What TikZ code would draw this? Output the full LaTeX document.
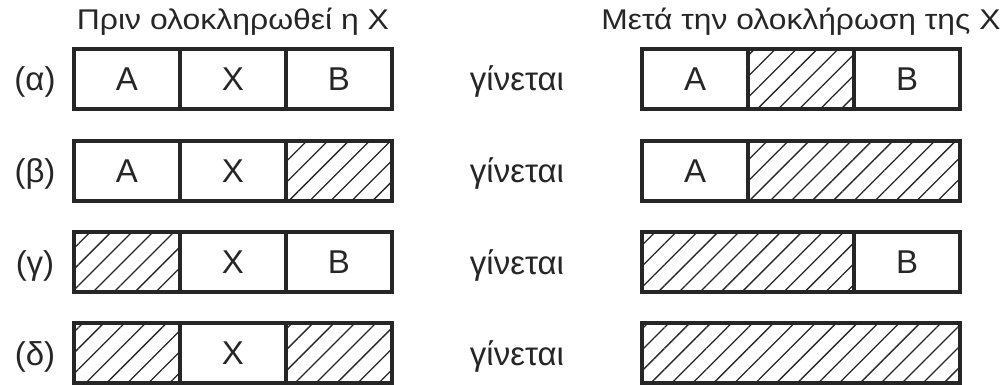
\documentclass[tikz,border=0pt]{standalone}
\usepackage{fontspec}
\setmainfont{Liberation Sans}
\usetikzlibrary{positioning, patterns.meta}

\definecolor{InkGray}{RGB}{38, 38, 38}

\begin{document}
\begin{tikzpicture}[
        x=1pt, y=-1pt,
        node distance=0pt,
        % Styles
        cell/.style={rectangle, draw=InkGray, line width=4pt, outer sep=0pt, inner sep=0pt, minimum width=106pt, minimum height=60pt, text=InkGray, font=\fontsize{33}{36}\selectfont},
        wide/.style={cell, minimum width=212pt},
        full/.style={cell, minimum width=318pt},
        hatched/.style={pattern={Lines[angle=45, distance=14.8pt, line width=1.3pt]}, pattern color=InkGray},
        tag/.style={anchor=base, text=InkGray, font=\fontsize{33}{36}\selectfont},
        heading/.style={anchor=base, text=InkGray, inner sep=0pt, font=\fontsize{28.5}{30}\selectfont}
    ]
        \useasboundingbox (0,0) rectangle (1005,385);

        % Headings
        \node [heading] (before) at (233,30) {\scalebox{1.12}[1]{Πριν ολοκληρωθεί η X}};
        \node [heading] (after) at (801,30) {\scalebox{1.115}[1]{Μετά την ολοκλήρωση της X}};

        % Row (a)
        \node [tag] (ta) at (35,91) {(α)};
        \node [cell] (a1) at (127,79) {A};
        \node [cell, right=of a1] (a2) {X};
        \node [cell, right=of a2] (a3) {B};
        \node [tag] (ga) at (517,91) {γίνεται};
        \node [cell] (a4) at (695,79) {A};
        \node [cell, hatched, right=of a4] (a5) {};
        \node [cell, right=of a5] (a6) {B};

        % Row (b)
        \node [tag] (tb) at (35,183) {(β)};
        \node [cell] (b1) at (127,171) {A};
        \node [cell, right=of b1] (b2) {X};
        \node [cell, hatched, right=of b2] (b3) {};
        \node [tag] (gb) at (517,183) {γίνεται};
        \node [cell] (b4) at (695,171) {A};
        \node [wide, hatched, right=of b4] (b5) {};

        % Row (c)
        \node [tag] (tc) at (35,274) {(γ)};
        \node [cell, hatched] (c1) at (127,262) {};
        \node [cell, right=of c1] (c2) {X};
        \node [cell, right=of c2] (c3) {B};
        \node [tag] (gc) at (517,274) {γίνεται};
        \node [wide, hatched] (c4) at (748,262) {};
        \node [cell, right=of c4] (c5) {B};

        % Row (d)
        \node [tag] (td) at (35,365) {(δ)};
        \node [cell, hatched] (d1) at (127,353) {};
        \node [cell, right=of d1] (d2) {X};
        \node [cell, hatched, right=of d2] (d3) {};
        \node [tag] (gd) at (517,365) {γίνεται};
        \node [full, hatched] (d4) at (801,353) {};
    \end{tikzpicture}
\end{document}
